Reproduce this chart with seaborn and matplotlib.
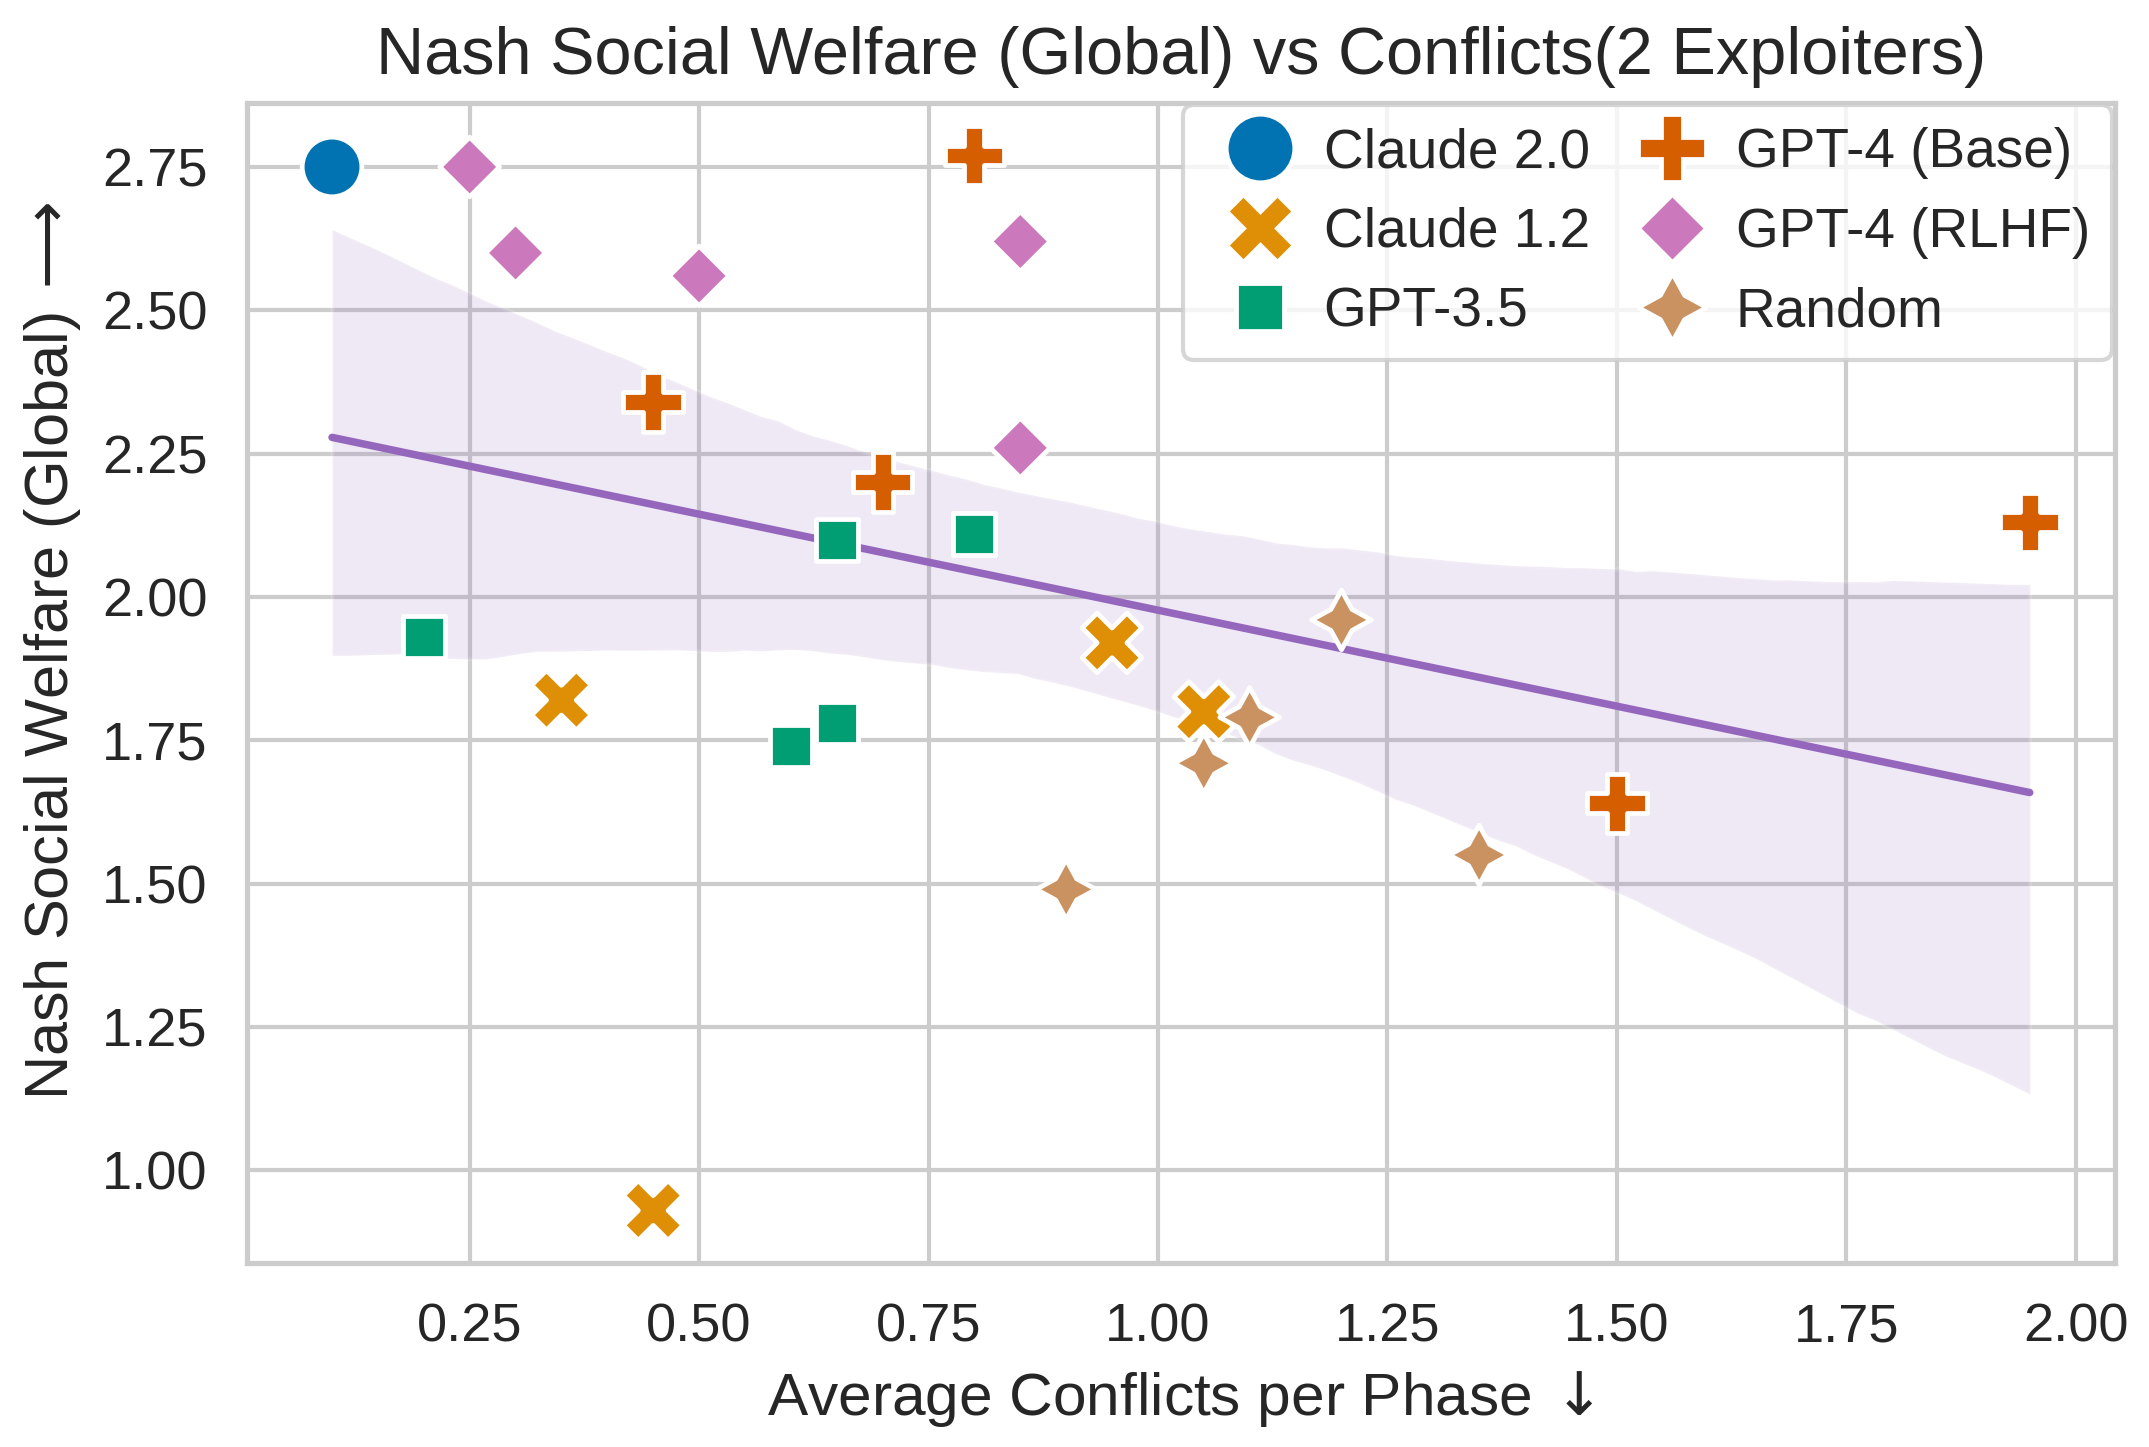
import numpy as np
import pandas as pd
import matplotlib
matplotlib.use("Agg")
import matplotlib.pyplot as plt
import seaborn as sns

# values
MODELS = ["Claude 2.0", "Claude 1.2", "GPT-3.5", "GPT-4 (Base)", "GPT-4 (RLHF)", "Random"]

claude20_x = [0.10]
claude20_y = [2.75]
claude12_x = [0.35, 0.45, 0.95, 1.05]
claude12_y = [1.82, 0.93, 1.92, 1.80]
gpt35_x = [0.20, 0.60, 0.65, 0.65, 0.80]
gpt35_y = [1.93, 1.74, 1.78, 2.10, 2.11]
gpt4base_x = [0.45, 0.70, 0.80, 1.50, 1.95]
gpt4base_y = [2.34, 2.20, 2.77, 1.64, 2.13]
gpt4rlhf_x = [0.25, 0.30, 0.50, 0.85, 0.85]
gpt4rlhf_y = [2.75, 2.60, 2.56, 2.62, 2.26]
random_x = [0.90, 1.05, 1.10, 1.20, 1.35]
random_y = [1.49, 1.71, 1.79, 1.96, 1.55]

xs = [claude20_x, claude12_x, gpt35_x, gpt4base_x, gpt4rlhf_x, random_x]
ys = [claude20_y, claude12_y, gpt35_y, gpt4base_y, gpt4rlhf_y, random_y]

rows = []
for name, xv, yv in zip(MODELS, xs, ys):
    for a, b in zip(xv, yv):
        rows.append({"model": name, "conflicts": a, "nsw": b})
df = pd.DataFrame(rows)

sns.set_theme(style="whitegrid", palette="colorblind")
plt.rcParams["font.family"] = ["Liberation Sans", "DejaVu Sans"]
plt.rcParams["mathtext.fontset"] = "dejavusans"

fig, ax = plt.subplots(figsize=(2149 / 300, 1447 / 300), dpi=300)
fig.subplots_adjust(left=0.115, right=0.984, top=0.929, bottom=0.127)

sns.regplot(data=df, x="conflicts", y="nsw", scatter=False, color="tab:purple",
            ax=ax, seed=3, line_kws={"linewidth": 1.8})
sns.scatterplot(data=df, x="conflicts", y="nsw", hue="model", style="model",
                hue_order=MODELS, style_order=MODELS, s=205, ax=ax, zorder=3)

ax.set_title("Nash Social Welfare (Global) vs Conflicts(2 Exploiters)", fontsize=16, pad=7)
ax.set_xlabel("Average Conflicts per Phase$\\,\\downarrow$", fontsize=14.5)
ax.set_ylabel("Nash Social Welfare (Global)$\\,\\longrightarrow$", fontsize=14.7)
ax.yaxis.set_label_coords(-0.088, 0.528)
ax.tick_params(axis="both", labelsize=13)

leg = ax.legend(loc="upper right", ncol=2, fontsize=13.2, borderaxespad=0.05,
                markerscale=1.15, columnspacing=0.5, handlelength=2.0,
                handletextpad=0.15)

plt.savefig("out.png", dpi=300)
plt.close()
